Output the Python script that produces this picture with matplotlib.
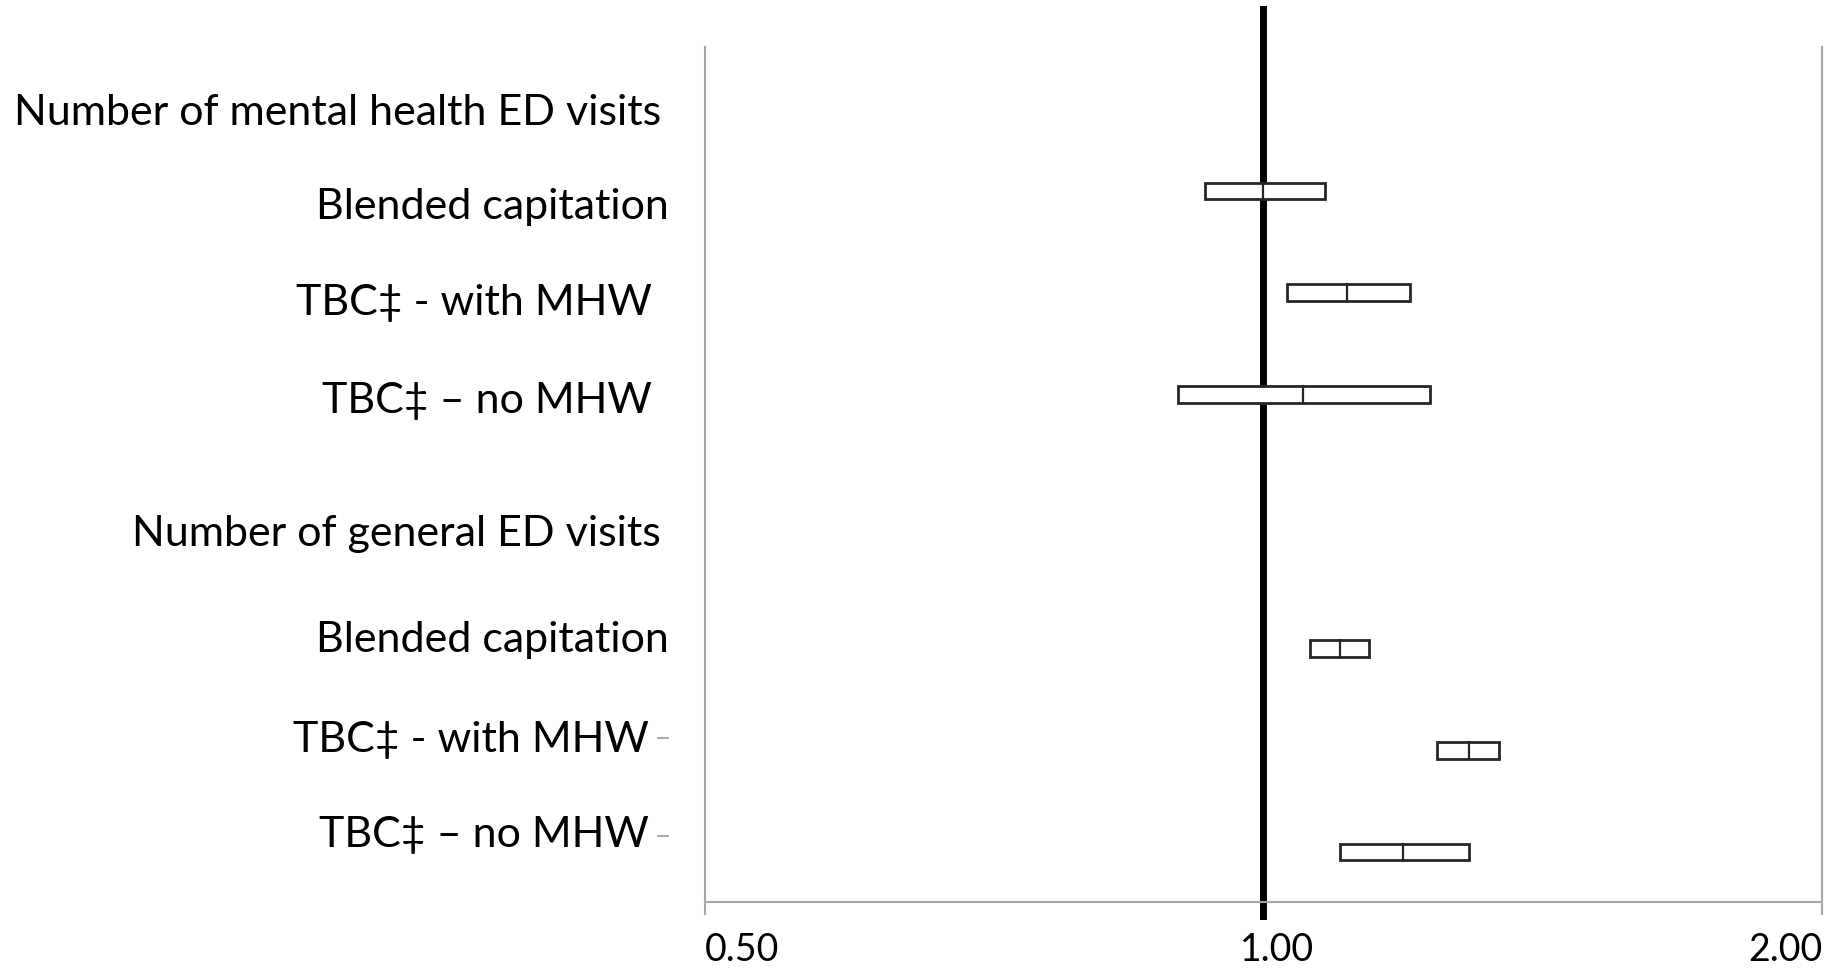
import matplotlib
matplotlib.use("Agg")
import matplotlib.pyplot as plt
from matplotlib.patches import Rectangle
from matplotlib.transforms import blended_transform_factory, ScaledTranslation
from matplotlib.lines import Line2D

plt.rcParams['font.family'] = ['Lato', 'DejaVu Sans']

# ---- data ----
labels = ["Number of mental health ED visits", "Blended capitation", "TBC\u2021 - with MHW",
          "TBC\u2021 \u2013 no MHW", "Number of general ED visits", "Blended capitation",
          "TBC\u2021 - with MHW", "TBC\u2021 \u2013 no MHW"]
mental_or = [1.00, 1.11, 1.05]
mental_lo = [0.93, 1.03, 0.90]
mental_hi = [1.08, 1.20, 1.23]
general_or = [1.10, 1.29, 1.19]
general_lo = [1.06, 1.24, 1.10]
general_hi = [1.14, 1.34, 1.29]
xticks = [0.5, 1.0, 2.0]
xticklabels = ["0.50", "1.00", "2.00"]
ref_value = 1.0

# ---- layout ----
box_rows = [1, 2, 3, 5.5, 6.5, 7.5]
label_rows = [0.230, 1.153, 2.101, 3.065, 4.375, 5.414, 6.395, 7.330]
label_right_px = [661, 669, 652, 652, 661, 669, 649, 649]
box_h = 0.165

W, H = 1841, 971
fig = plt.figure(figsize=(W / 100, H / 100), dpi=100)
ax = fig.add_axes([704.5 / W, (H - 902) / H, (1822 - 704.5) / W, 855 / H])
ax.set_xscale('log')
ax.set_xlim(0.5, 2.0)
ax.set_ylim(7.991, -0.416)

gray = '#a6a6a6'
ax.spines['top'].set_visible(False)
for s in ['left', 'right', 'bottom']:
    ax.spines[s].set_color(gray)
    ax.spines[s].set_linewidth(1.5)

ax.set_yticks([])
ax.minorticks_off()
ax.set_xticks(xticks)
ax.set_xticklabels(xticklabels)
ax.tick_params(axis='x', which='major', direction='out', length=9.5, width=1.5,
               color=gray, labelsize=27, pad=12, labelcolor='black')
ax.tick_params(axis='x', which='minor', length=0)
tl = ax.get_xticklabels()
tl[0].set_ha('left')
tl[2].set_ha('right')
tl[1].set_transform(tl[1].get_transform() + ScaledTranslation(14 / 100, 0, fig.dpi_scale_trans))

# reference line
ax.axvline(ref_value, ymin=-0.0164, ymax=1.0444, color='black', lw=5, clip_on=False, zorder=2)

ors = mental_or + general_or
los = mental_lo + general_lo
his = mental_hi + general_hi
for r, o, lo, hi in zip(box_rows, ors, los, his):
    ax.add_patch(Rectangle((lo, r - box_h / 2), hi - lo, box_h, facecolor='white',
                           edgecolor='#262626', lw=2.0, zorder=3))
    ax.plot([o, o], [r - box_h / 2, r + box_h / 2], color='#262626', lw=1.6, zorder=4)

# labels
tr = blended_transform_factory(fig.transFigure, ax.transData)
for lab, r, xr in zip(labels, label_rows, label_right_px):
    ax.text(xr / W, r, lab, transform=tr, ha='right', va='center',
            fontsize=31, color='black')

# stray tick dashes near last two labels
for yp in [738, 836]:
    fig.add_artist(Line2D([658 / W, 668 / W], [(H - yp) / H, (H - yp) / H],
                          transform=fig.transFigure, color='#9a9a9a', lw=1.2))

fig.savefig('out.png', dpi=100, facecolor='white')
